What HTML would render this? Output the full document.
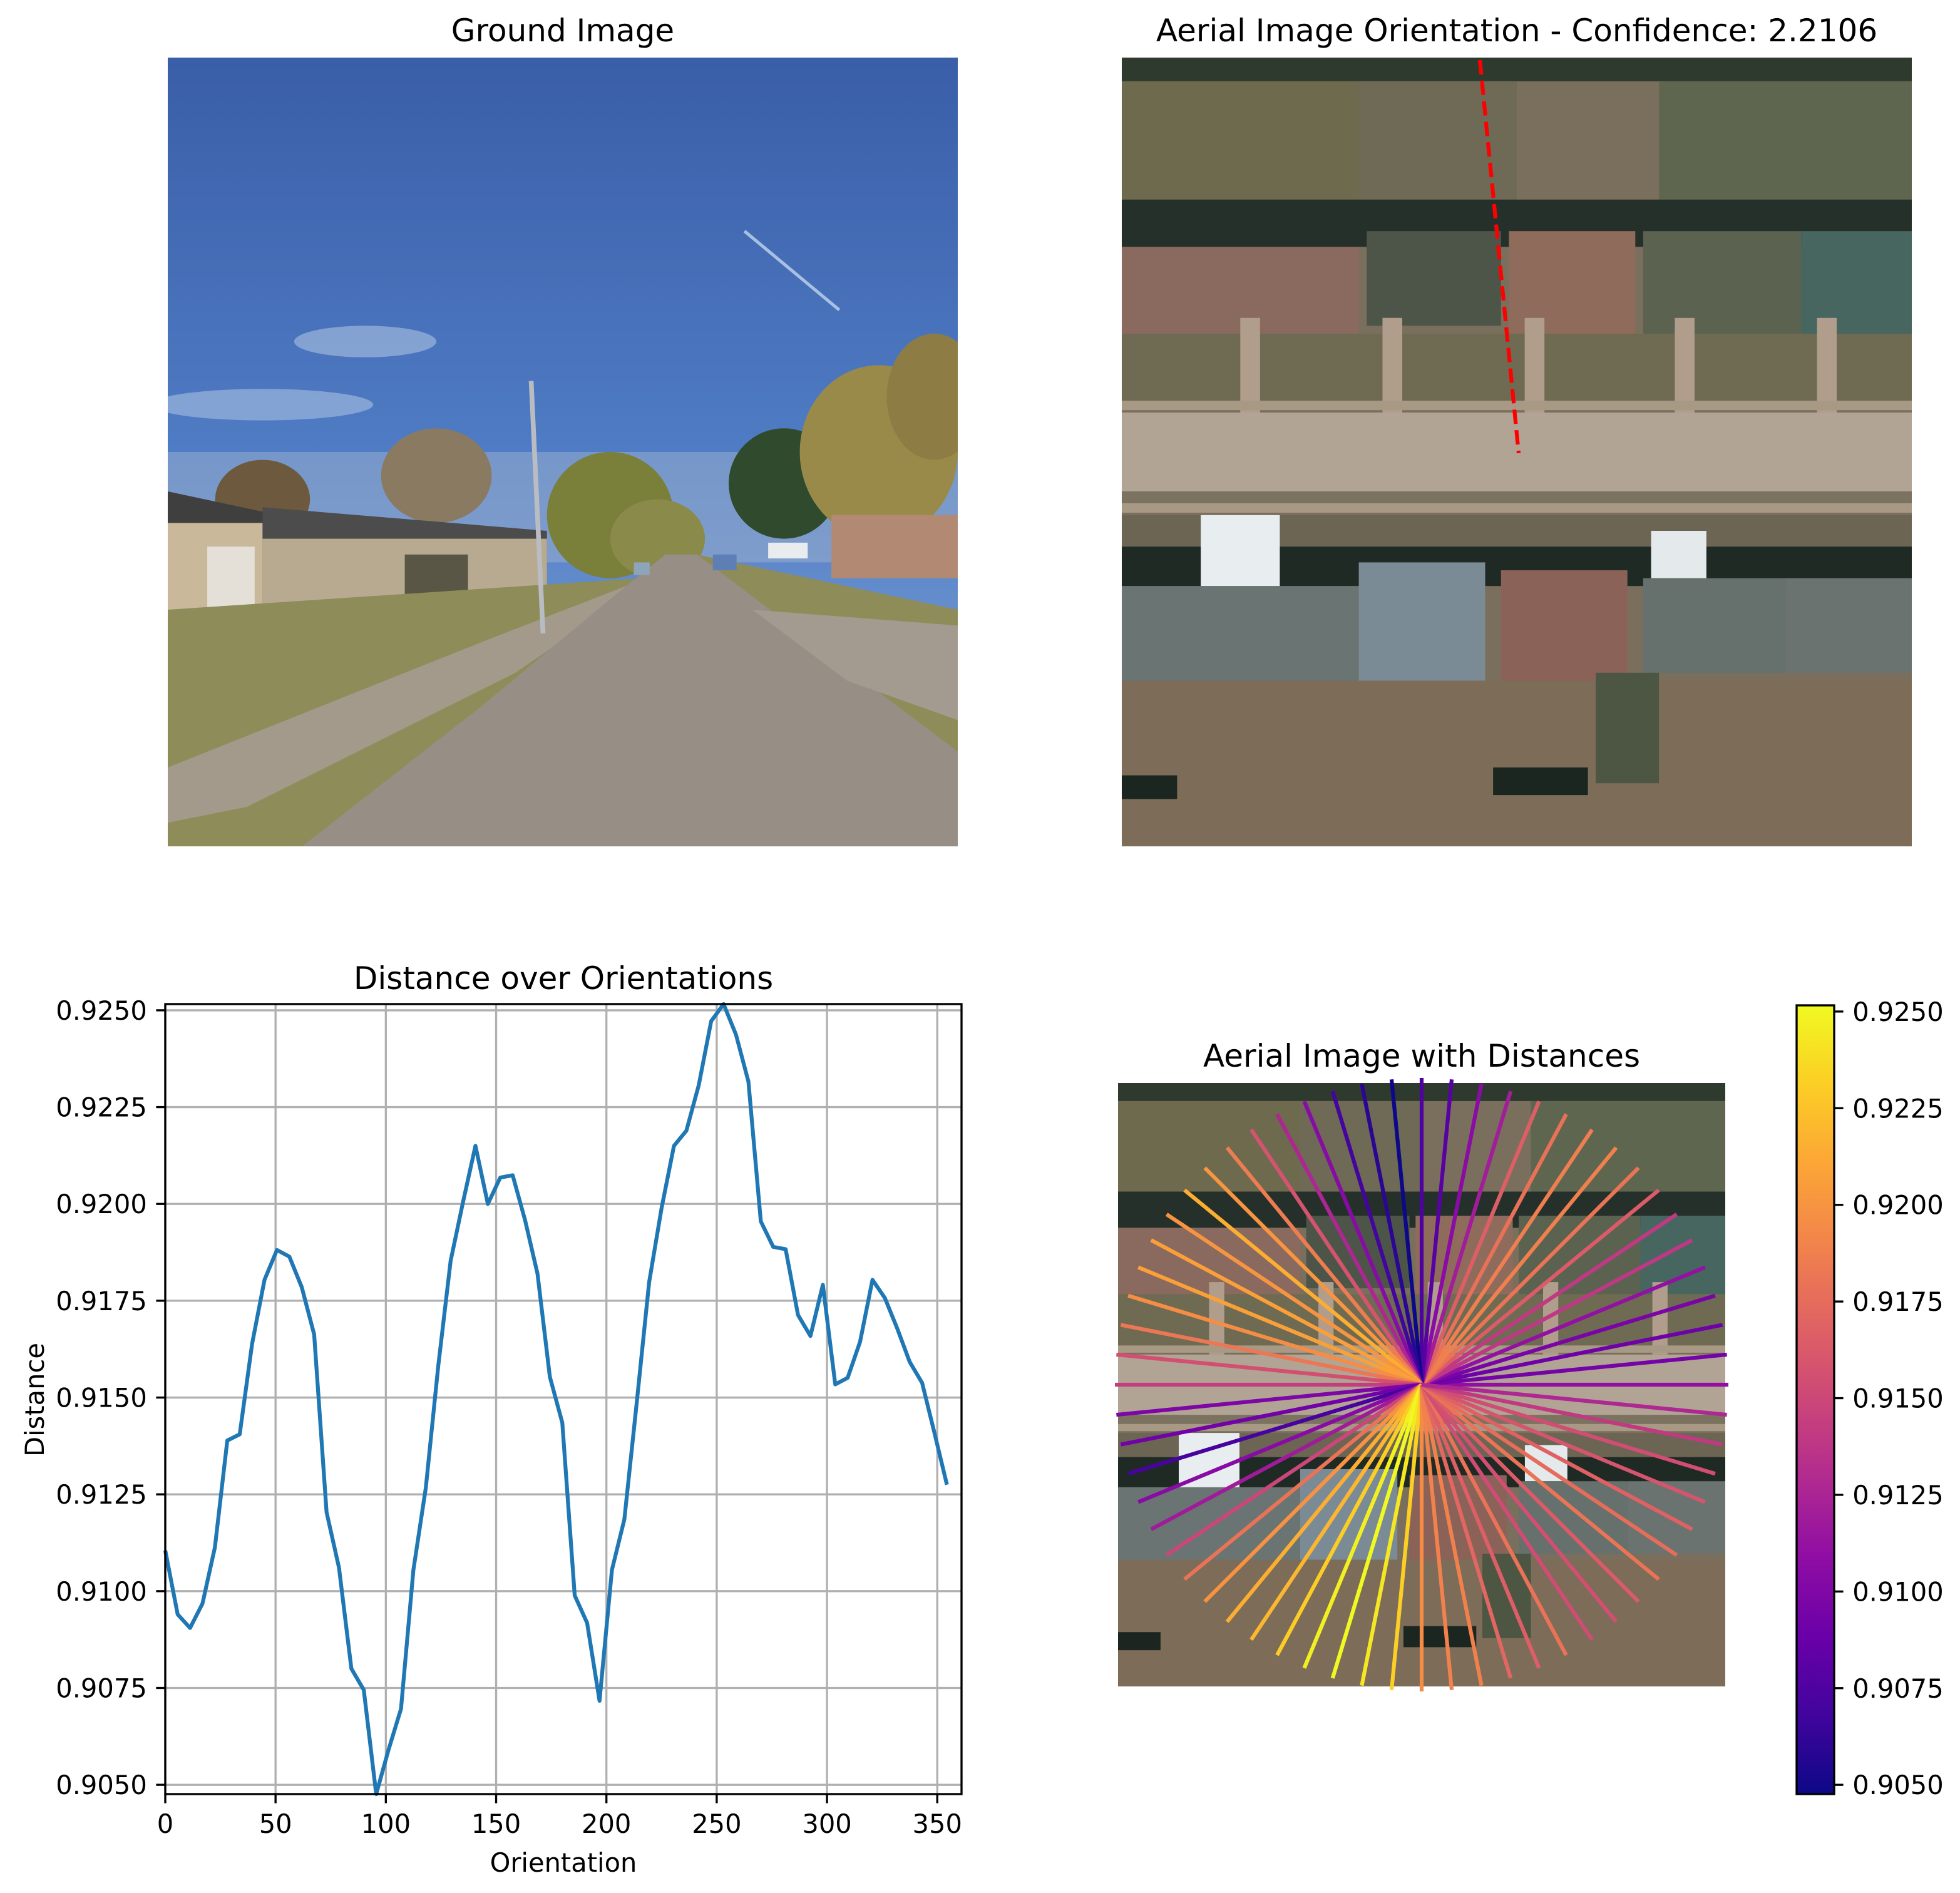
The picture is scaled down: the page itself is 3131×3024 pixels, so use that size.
<!DOCTYPE html>
<html><head><meta charset="utf-8">
<style>
html,body{margin:0;padding:0;background:#fff;}
svg{display:block;}
text{font-family:"DejaVu Sans","Liberation Sans",sans-serif;fill:#000;}
</style></head>
<body>
<svg id="fig" width="3131" height="3024" viewBox="0 0 1565.5 1512" xmlns="http://www.w3.org/2000/svg">
<defs>
<linearGradient id="sky" x1="0" y1="0" x2="0" y2="1">
<stop offset="0" stop-color="#3a5ea8"/><stop offset="0.5" stop-color="#4f7cc4"/><stop offset="1" stop-color="#86a8d8"/>
</linearGradient>
<linearGradient id="plasma" x1="0" y1="1" x2="0" y2="0">
<stop offset="0" stop-color="#0d0887"/><stop offset="0.1" stop-color="#41049d"/><stop offset="0.2" stop-color="#6a00a8"/><stop offset="0.3" stop-color="#8f0da4"/><stop offset="0.4" stop-color="#b12a90"/><stop offset="0.5" stop-color="#cc4778"/><stop offset="0.6" stop-color="#e16462"/><stop offset="0.7" stop-color="#f2844b"/><stop offset="0.8" stop-color="#fca636"/><stop offset="0.9" stop-color="#fcce25"/><stop offset="1" stop-color="#f0f921"/>
</linearGradient>
<symbol id="aerial" viewBox="0 0 100 100" preserveAspectRatio="none">
<rect x="0" y="0" width="100" height="100" fill="#7a6e5c"/>
<rect x="0" y="0" width="100" height="3" fill="#2f3a2e"/>
<rect x="0" y="3" width="30" height="15" fill="#6d6a4e"/>
<rect x="30" y="3" width="20" height="15" fill="#6e6a55"/>
<rect x="68" y="3" width="32" height="15" fill="#5f6650"/>
<rect x="0" y="18" width="100" height="6" fill="#26302a"/>
<rect x="0" y="24" width="30" height="11" fill="#8a6a5e"/>
<rect x="31" y="22" width="17" height="12" fill="#4c5548"/>
<rect x="49" y="22" width="16" height="14" fill="#8f6b5c"/>
<rect x="66" y="22" width="20" height="14" fill="#5b6250"/>
<rect x="86" y="22" width="14" height="13" fill="#47665f"/>
<rect x="0" y="35" width="100" height="9" fill="#6f6b52"/>
<rect x="15" y="33" width="2.5" height="12" fill="#b09d8c"/>
<rect x="33" y="33" width="2.5" height="12" fill="#b09d8c"/>
<rect x="51" y="33" width="2.5" height="12" fill="#b09d8c"/>
<rect x="70" y="33" width="2.5" height="12" fill="#b09d8c"/>
<rect x="88" y="33" width="2.5" height="12" fill="#b09d8c"/>
<rect x="0" y="43.5" width="100" height="1.2" fill="#a89985"/>
<rect x="0" y="45" width="100" height="10" fill="#b2a494"/>
<rect x="0" y="56.5" width="100" height="1.2" fill="#a89985"/>
<rect x="0" y="55" width="100" height="1.5" fill="#7b7260"/>
<rect x="0" y="58" width="100" height="4" fill="#6c6553"/>
<rect x="0" y="62" width="100" height="5" fill="#1f2a24"/>
<rect x="10" y="58" width="10" height="9" fill="#e8eef0"/>
<rect x="67" y="60" width="7" height="6" fill="#e4e9ec"/>
<rect x="0" y="67" width="30" height="12" fill="#6a7472"/>
<rect x="30" y="64" width="16" height="15" fill="#7b8b96"/>
<rect x="48" y="65" width="16" height="15" fill="#8b6258"/>
<rect x="66" y="66" width="18" height="12" fill="#66706c"/>
<rect x="84" y="66" width="16" height="12" fill="#6b7370"/>
<rect x="0" y="79" width="100" height="21" fill="#7c6c58"/>
<rect x="47" y="90" width="12" height="3.5" fill="#1c2620"/>
<rect x="0" y="91" width="7" height="3" fill="#1c2620"/>
<rect x="60" y="78" width="8" height="14" fill="#4d5642"/>
</symbol>
</defs>

<g>
<text x="449.5" y="33" font-size="25" text-anchor="middle">Ground Image</text>
<svg x="134" y="46" width="631" height="630" viewBox="0 0 100 100" preserveAspectRatio="none">
<rect x="0" y="0" width="100" height="100" fill="url(#sky)"/>
<ellipse cx="25" cy="36" rx="9" ry="2" fill="#9db6dc" opacity="0.7"/>
<ellipse cx="12" cy="44" rx="14" ry="2" fill="#a7bfe0" opacity="0.6"/>
<line x1="73" y1="22" x2="85" y2="32" stroke="#a8c0e2" stroke-width="0.4"/>
<rect x="0" y="50" width="100" height="14" fill="#9db1cf" opacity="0.5"/>
<ellipse cx="12" cy="56" rx="6" ry="5" fill="#6d5a3e"/>
<ellipse cx="34" cy="53" rx="7" ry="6" fill="#8a7a62"/>
<ellipse cx="56" cy="58" rx="8" ry="8" fill="#7a7f3a"/>
<ellipse cx="62" cy="61" rx="6" ry="5" fill="#8a8a4a"/>
<ellipse cx="78" cy="54" rx="7" ry="7" fill="#2f4a2c"/>
<ellipse cx="90" cy="50" rx="10" ry="11" fill="#9a8a4a"/>
<ellipse cx="97" cy="43" rx="6" ry="8" fill="#8d7d45"/>
<polygon points="0,55 14,58 14,72 0,72" fill="#3f3f40"/>
<rect x="0" y="59" width="12" height="14" fill="#c9b89a"/>
<rect x="5" y="62" width="6" height="10" fill="#e4e0d8"/>
<polygon points="12,57 48,60 48,70 12,70" fill="#4b4c4b"/>
<rect x="12" y="61" width="36" height="9" fill="#b8aa90"/>
<rect x="30" y="63" width="8" height="8" fill="#5a5646"/>
<polygon points="84,58 100,58 100,66 84,66" fill="#b28a74"/>
<rect x="76" y="61.5" width="5" height="2" fill="#e8ecef"/>
<polygon points="0,70 60,66 63,63 67,63 100,70 100,100 0,100" fill="#8e8c58"/>
<polygon points="0,90 40,74 58,67 60,67 44,78 10,95 0,97" fill="#a49a8c"/>
<polygon points="63,63 67,63 100,88 100,100 17,100 40,82 58,67" fill="#978e86"/>
<polygon points="74,70 100,72 100,84 86,79" fill="#a39b90"/>
<line x1="46" y1="41" x2="47.5" y2="73" stroke="#b9bcc2" stroke-width="0.6"/>
<rect x="59" y="64" width="2" height="1.6" fill="#8ea4b8"/>
<rect x="69" y="63" width="3" height="2" fill="#5d7fb5"/>
</svg>
</g>

<g>
<text x="1211.5" y="33" font-size="25" text-anchor="middle">Aerial Image Orientation - Confidence: 2.2106</text>
<use href="#aerial" x="896" y="46" width="631" height="630"/>
<line x1="1182" y1="48" x2="1213" y2="362" stroke="#ff0000" stroke-width="3.1" stroke-dasharray="11.5,5"/>
</g>

<g id="linechart">
<text x="450" y="790" font-size="25" text-anchor="middle">Distance over Orientations</text>
<text x="450" y="1495" font-size="20.8" text-anchor="middle">Orientation</text>
<text x="35" y="1118" font-size="20.8" text-anchor="middle" transform="rotate(-90 35 1118)">Distance</text>
</g>

<g id="polar">
<text x="1135.5" y="852" font-size="25" text-anchor="middle">Aerial Image with Distances</text>
<use href="#aerial" x="893" y="865" width="485" height="482"/>
</g>
<g id="cbar"></g>
</svg>
<script>
const orientations = [0,5.625,11.25,16.875,22.5,28.125,33.75,39.375,45,50.625,56.25,61.875,67.5,73.125,78.75,84.375,90,95.625,101.25,106.875,112.5,118.125,123.75,129.375,135,140.625,146.25,151.875,157.5,163.125,168.75,174.375,180,185.625,191.25,196.875,202.5,208.125,213.75,219.375,225,230.625,236.25,241.875,247.5,253.125,258.75,264.375,270,275.625,281.25,286.875,292.5,298.125,303.75,309.375,315,320.625,326.25,331.875,337.5,343.125,348.75,354.375];
const distances = [0.91105,0.9094,0.90905,0.90968,0.91113,0.91389,0.91405,0.91639,0.91804,0.91881,0.91864,0.91785,0.91663,0.91204,0.91061,0.90800,0.90745,0.90476,0.90591,0.90696,0.91055,0.91267,0.91581,0.91853,0.92005,0.92150,0.92000,0.92068,0.92074,0.91958,0.91820,0.91553,0.91435,0.90989,0.90918,0.90717,0.91055,0.91185,0.91487,0.91798,0.91989,0.92150,0.92189,0.92307,0.92472,0.92516,0.92437,0.92316,0.91955,0.91889,0.91883,0.91713,0.91659,0.91791,0.91534,0.91551,0.91644,0.91804,0.91757,0.91678,0.91592,0.91538,0.91408,0.91275];
const xTicks = [0,50,100,150,200,250,300,350];
const yTicks = [0.9050,0.9075,0.9100,0.9125,0.9150,0.9175,0.9200,0.9225,0.9250];
const plasmaStops = ['#0d0887','#41049d','#6a00a8','#8f0da4','#b12a90','#cc4778','#e16462','#f2844b','#fca636','#fcce25','#f0f921'];

const NS='http://www.w3.org/2000/svg';
function mk(tag,attrs,parent){const e=document.createElementNS(NS,tag);for(const k in attrs)e.setAttribute(k,attrs[k]);parent.appendChild(e);return e;}
const vmin=Math.min(...distances), vmax=Math.max(...distances);
const TL=7.3, FS=20.8, LW=1.67;

const L=132,R=768,T=802,B=1433, xmax=361;
const sx=v=>L+(v/xmax)*(R-L);
const sy=v=>B-(v-vmin)/(vmax-vmin)*(B-T);
const lc=document.getElementById('linechart');
xTicks.forEach(t=>{
  const g=mk('line',{x1:sx(t),x2:sx(t),y1:T,y2:B,stroke:'#b0b0b0','stroke-width':LW},lc);
  
  
  const tk=mk('line',{x1:sx(t),x2:sx(t),y1:B,y2:B+TL,stroke:'#000','stroke-width':LW},lc);
  
  
  const tx=mk('text',{x:sx(t),y:B+31,'font-size':FS,'text-anchor':'middle'},lc);
  tx.textContent=t;
  
  
});
yTicks.forEach(t=>{
  const g=mk('line',{x1:L,x2:R,y1:sy(t),y2:sy(t),stroke:'#b0b0b0','stroke-width':LW},lc);
  
  
  const tk=mk('line',{x1:L-TL,x2:L,y1:sy(t),y2:sy(t),stroke:'#000','stroke-width':LW},lc);
  
  
  const tx=mk('text',{x:L-2*TL,y:sy(t)+7.5,'font-size':FS,'text-anchor':'end'},lc);
  tx.textContent=t.toFixed(4);
  
  
});
const pts=orientations.map((o,i)=>sx(o).toFixed(2)+','+sy(distances[i]).toFixed(2)).join(' ');
const pl=mk('polyline',{points:pts,fill:'none',stroke:'#1f77b4','stroke-width':3.1,'stroke-linejoin':'round'},lc);


const fr=mk('rect',{x:L,y:T,width:R-L,height:B-T,fill:'none',stroke:'#000','stroke-width':LW},lc);



function hex(c){return [1,3,5].map(i=>parseInt(c.substr(i,2),16));}
function plasma(t){t=Math.max(0,Math.min(1,t));const p=t*10,i=Math.min(9,Math.floor(p)),f=p-i;const a=hex(plasmaStops[i]),b=hex(plasmaStops[i+1]);return 'rgb('+a.map((v,k)=>Math.round(v+(b[k]-v)*f)).join(',')+')';}

const pg=document.getElementById('polar');
const cx=1135.5, cy=1106, rad=245;
orientations.forEach((o,i)=>{
  const a=o*Math.PI/180;
  const ln=mk('line',{x1:cx,y1:cy,x2:cx+rad*Math.cos(a),y2:cy-rad*Math.sin(a),stroke:plasma((distances[i]-vmin)/(vmax-vmin)),'stroke-width':3.1},pg);
  
  
});

const cb=document.getElementById('cbar');
const CL=1435,CR=1465,CT=803,CB=1433;
const cr=mk('rect',{x:CL,y:CT,width:CR-CL,height:CB-CT,fill:'url(#plasma)',stroke:'#000','stroke-width':LW},cb);


const cyf=v=>CB-(v-vmin)/(vmax-vmin)*(CB-CT);
yTicks.forEach(t=>{
  const tk=mk('line',{x1:CR,x2:CR+TL,y1:cyf(t),y2:cyf(t),stroke:'#000','stroke-width':LW},cb);
  
  
  const tx=mk('text',{x:CR+2*TL,y:cyf(t)+7.5,'font-size':FS},cb);
  tx.textContent=t.toFixed(4);
  
  
});
</script>
</body></html>
